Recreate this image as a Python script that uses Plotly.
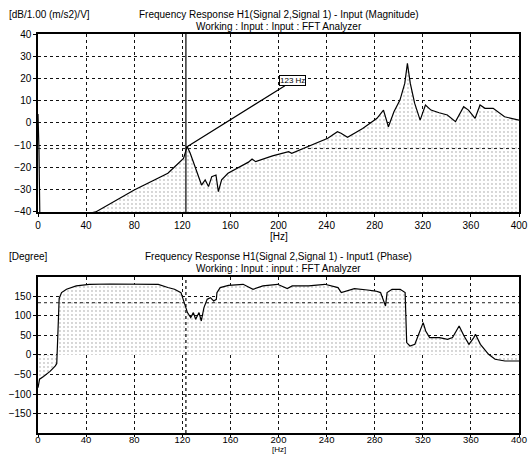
import plotly.graph_objects as go

# ---------------- data ----------------
mag_freq = [0, 0.8, 1.6, 48, 80, 100, 108, 117, 121, 124, 126.5, 129.5, 132, 136, 139,
            141.8, 144.5, 148, 150, 152.7, 158, 175, 178, 181, 195, 208.4, 211, 224.7,
            241, 249, 252, 257.4, 262.9, 270, 281.9, 287.3, 291.4, 296, 301, 305, 307.2,
            309.6, 313.2, 317.8, 322.2, 326.8, 333.6, 340.4, 347.2, 354, 358, 363.5,
            367.6, 371.7, 378.5, 388, 400]
mag_db = [4, -12, -45, -40, -30.1, -25, -22.6, -18, -15.9, -10.6, -13.5, -18, -21.9, -27.9, -25.6,
          -28.6, -24.1, -23.4, -30.9, -25.6, -22.6, -17.6, -16.2, -17.4, -14.8, -12.9, -13.6, -10.6,
          -6.9, -3.9, -4.6, -6.4, -4.6, -2.5, 2.1, 5.8, -1.7, 5, 10.3, 17.8, 26.8,
          17.8, 8.9, 1.3, 8.1, 5.8, 4.6, 3.6, 0.6, 7.3, 5.8, 2.1,
          8.1, 6.6, 6.6, 2.8, 1.3]

phase_freq = [0, 1.3, 4.6, 10, 14.4, 15.6, 16.6, 17.6, 19.6, 23.7, 31.8, 42.7, 60, 80, 100, 108,
              113.5, 118.9, 120.3, 123, 124.3, 127, 129.2, 131.1, 133.9, 135.8, 138, 140.7,
              143.4, 146.1, 148.3, 148.8, 151.5, 158.4, 170.6, 178.8, 187, 199.2, 207.3, 211.4,
              225, 238.6, 249.5, 252.2, 256.3, 263.1, 274, 280.8, 284.9, 289, 290.3, 294.4,
              301.2, 305.3, 306.6, 309.3, 313.4, 318, 320.3, 322.4, 325.7, 333.9, 340.6, 344.7,
              350.2, 354.3, 358.4, 362.4, 363.8, 367.9, 374.7, 380.1, 388.3, 400]
phase_deg = [-84, -62, -55, -42, -28, -22, 60, 145, 160, 168.5, 177, 181, 182, 182, 181, 173,
             168.5, 160, 147, 125.6, 108.7, 96, 108.7, 91.5, 108.7, 87.2, 121.5, 142.8,
             147, 138.5, 142.8, 160, 172.8, 178.7, 181.3, 168.5, 177, 181.3, 170.2, 177,
             177, 181.3, 172.8, 160, 164, 170, 166.7, 164, 160, 125.6, 160, 168.5,
             168.5, 160, 31.8, 23, 27.4, 61.5, 83, 61.5, 44.6, 44.6, 40.3, 44.6,
             74.4, 48.7, 27.4, 44.6, 53, 27.4, 1.8, -11, -15.4, -15.4]

x_ticks = [0, 40, 80, 120, 160, 200, 240, 280, 320, 360, 400]
mag_ticks = [-40, -30, -20, -10, 0, 10, 20, 30, 40]
phase_ticks = [-150, -100, -50, 0, 50, 100, 150]

cursor_freq = 123
cursor_mag = -11.5
cursor_phase = 134
cursor_label = "123 Hz"

# ---------------- figure ----------------
FONT = "Liberation Sans"
fill_pat = dict(shape=".", fgcolor="#8a8a8a", bgcolor="white", size=4, solidity=0.16)

fig = go.Figure()
# baseline for magnitude fill
fig.add_trace(go.Scatter(x=[mag_freq[0], mag_freq[-1]], y=[mag_ticks[0], mag_ticks[0]],
                         mode="lines", line=dict(width=0), hoverinfo="skip",
                         showlegend=False, xaxis="x", yaxis="y"))
fig.add_trace(go.Scatter(x=mag_freq, y=mag_db, mode="lines", fill="tonexty",
                         fillpattern=fill_pat, fillcolor="white",
                         line=dict(color="black", width=1.2), showlegend=False,
                         xaxis="x", yaxis="y"))
fig.add_trace(go.Scatter(x=phase_freq, y=phase_deg, mode="lines", fill="tozeroy",
                         fillpattern=fill_pat, fillcolor="white",
                         line=dict(color="black", width=1.2), showlegend=False,
                         xaxis="x2", yaxis="y2"))

axis_common = dict(showline=True, linecolor="black", linewidth=1.5, mirror=True,
                   showgrid=True, gridcolor="#111111", griddash="dot", gridwidth=1,
                   ticks="outside", ticklen=3, tickcolor="black",
                   tickfont=dict(family=FONT, size=10, color="black"), zeroline=False)
x2_common = dict(axis_common)
x2_common["ticklen"] = 2
x2_common["tickfont"] = dict(family=FONT, size=9.5, color="black")

fig.update_layout(
    width=529, height=454,
    margin=dict(l=38, r=1, t=34, b=21),
    paper_bgcolor="white", plot_bgcolor="white",
    font=dict(family=FONT, size=10, color="black"),
    xaxis=dict(domain=[0, 1], range=[0, 400], tickvals=x_ticks, anchor="y",
               ticklabeloverflow="allow", **axis_common),
    yaxis=dict(domain=[0.554, 1], range=[-40, 40], tickvals=mag_ticks, anchor="x", **axis_common),
    xaxis2=dict(domain=[0, 1], range=[0, 400], tickvals=x_ticks, anchor="y2",
                ticklabeloverflow="allow", ticklabelstandoff=-5, **x2_common),
    yaxis2=dict(domain=[0, 0.391], range=[-200, 200], tickvals=phase_ticks, anchor="x2", **axis_common),
)

# cursor lines
fig.add_shape(type="line", xref="x", yref="paper", x0=cursor_freq, x1=cursor_freq, y0=0.554, y1=1,
              line=dict(color="black", width=1.2))
fig.add_shape(type="line", xref="paper", yref="y", x0=0, x1=1, y0=cursor_mag, y1=cursor_mag,
              line=dict(color="#222", width=1, dash="dot"))
fig.add_shape(type="line", xref="x2", yref="paper", x0=cursor_freq, x1=cursor_freq, y0=0, y1=0.391,
              line=dict(color="black", width=1.2, dash="dot"))
fig.add_shape(type="line", xref="paper", yref="y2", x0=0, x1=1, y0=cursor_phase, y1=cursor_phase,
              line=dict(color="#222", width=1, dash="dot"))

# cursor label
fig.add_annotation(x=cursor_freq, y=cursor_mag + 0.5, xref="x", yref="y",
                   ax=212, ay=19, axref="x", ayref="y",
                   text=cursor_label, showarrow=True, arrowhead=0, arrowwidth=1.2,
                   arrowcolor="black", font=dict(family=FONT, size=8, color="black"),
                   bgcolor="white", bordercolor="black", borderwidth=1, borderpad=0)

def ypix(py):
    return (433 - py) / 399.0

texts = [
    ("[dB/1.00 (m/s2)/V]", 0.5, 15, "left", 10, "middle"),
    ("Frequency Response H1(Signal 2,Signal 1) - Input (Magnitude)", 0.5, 15, "center", 10, "middle"),
    ("Working : Input : Input : FFT Analyzer", 0.5, 26, "center", 10, "middle"),
    ("[Hz]", 200, 236, "center_x", 10, "middle"),
    ("[Degree]", 0.5, 256, "left", 10, "middle"),
    ("Frequency Response H1(Signal 2,Signal 1) - Input1 (Phase)", 0.5, 256, "center", 10, "middle"),
    ("Working : Input : input : FFT Analyzer", 0.5, 268, "center", 10, "middle"),
    ("[Hz]", 200, 455, "center_x", 8, "bottom"),
]
for t, x, py, mode, sz, ya in texts:
    if mode == "center_x":
        fig.add_annotation(x=x, xref="x", y=ypix(py), yref="paper", text=t, showarrow=False,
                           xanchor="center", yanchor=ya, borderpad=0,
                           font=dict(family=FONT, size=sz, color="black"))
    elif mode == "left":
        fig.add_annotation(x=-32 / 490, xref="paper", y=ypix(py), yref="paper", text=t,
                           showarrow=False, xanchor="left", yanchor=ya,
                           font=dict(family=FONT, size=sz, color="black"))
    else:
        fig.add_annotation(x=x, xref="paper", y=ypix(py), yref="paper", text=t, showarrow=False,
                           xanchor="center", yanchor=ya,
                           font=dict(family=FONT, size=sz, color="black"))

fig.write_html("out.html")
